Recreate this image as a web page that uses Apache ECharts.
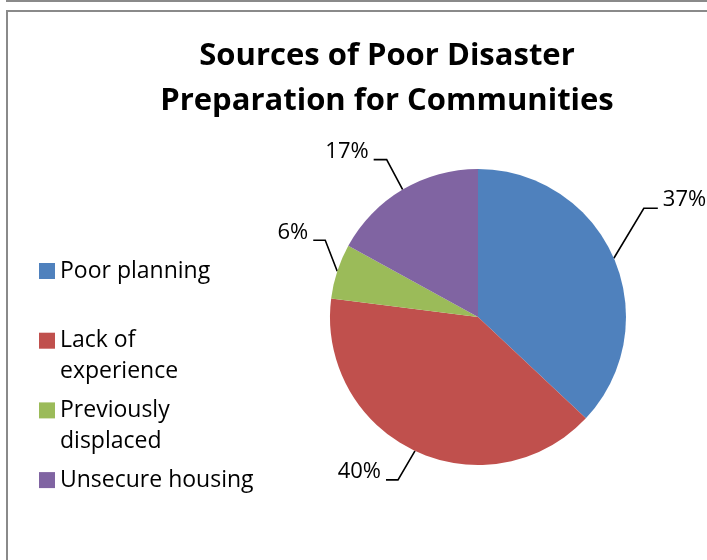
<!DOCTYPE html>
<html>
<head>
<meta charset="utf-8">
<script src="https://cdn.jsdelivr.net/npm/echarts@6/dist/echarts.min.js"></script>
<style>
  html, body { margin: 0; padding: 0; background: #ffffff; }
  #chart { width: 707px; height: 560px; }
</style>
</head>
<body>
<div id="chart"></div>
<script>
// Chart data
const titleLines = ['Sources of Poor Disaster', 'Preparation for Communities'];
const categories = ['Poor planning', 'Lack of experience', 'Previously displaced', 'Unsecure housing'];
const legendText = ['Poor planning', 'Lack of\nexperience', 'Previously\ndisplaced', 'Unsecure housing'];
const shares = [37, 40, 6, 17];

// Styling
const sliceColors = ['#4F81BD', '#C0504D', '#9BBB59', '#8064A2'];
const FONT = '"Open Sans", "Noto Sans", sans-serif';
const LEGEND_LINE = 31;      // legend line height
const LEGEND_FIRST = 271;    // centre of the first swatch
const LEGEND_STEP = 69.7;    // distance between swatches

// Leader lines: bend offset from the slice edge, then a horizontal run
const leaders = [
  { dx: 30, dy: -50, run: 14 },
  { dx: -17, dy: 29, run: -12 },
  { dx: -12, dy: -31, run: -12 },
  { dx: -16, dy: -30, run: -13 }
];

const chart = echarts.init(document.getElementById('chart'), null, { renderer: 'canvas' });

// One legend block per entry. The swatch sits at the vertical middle of the
// text block, so wrapped names get blank lines on top to keep the swatch
// level with their first line.
const legends = categories.map(function (name, i) {
  const extra = legendText[i].split('\n').length - 1;
  const swatchY = LEGEND_FIRST + LEGEND_STEP * i;
  const label = new Array(extra + 1).join(' \n') + legendText[i];
  return {
    orient: 'vertical',
    left: 39,
    top: swatchY - LEGEND_LINE / 2 - extra * LEGEND_LINE,
    padding: 0,
    itemWidth: 16,
    itemHeight: 16,
    icon: 'rect',
    selectedMode: false,
    itemStyle: { borderWidth: 0 },
    data: [name],
    formatter: function () { return label; },
    textStyle: {
      fontFamily: FONT,
      fontSize: 23,
      lineHeight: LEGEND_LINE,
      color: '#000000'
    }
  };
});

const option = {
  backgroundColor: '#ffffff',
  animation: false,
  color: sliceColors,
  graphic: [
    {
      type: 'polyline',
      shape: { points: [[7, -4], [7, 1], [710, 1]] },
      style: { stroke: '#8a8a8a', lineWidth: 2, fill: null }
    },
    {
      type: 'polyline',
      shape: { points: [[7, 565], [7, 11], [710, 11]] },
      style: { stroke: '#8a8a8a', lineWidth: 2, fill: null }
    },
    {
      type: 'text',
      x: 387,
      y: 33.5,
      style: {
        text: titleLines.join('\n'),
        fontFamily: FONT,
        fontWeight: 'bold',
        fontSize: 31,
        lineHeight: 45,
        align: 'center',
        verticalAlign: 'top',
        fill: '#000000'
      }
    }
  ],
  legend: legends,
  series: [
    {
      type: 'pie',
      center: [478, 317],
      radius: 148,
      startAngle: 90,
      clockwise: true,
      avoidLabelOverlap: false,
      silent: true,
      itemStyle: { borderWidth: 0 },
      data: categories.map(function (name, i) {
        return { name: name, value: shares[i] };
      }),
      label: {
        show: true,
        position: 'outside',
        formatter: function (p) { return shares[p.dataIndex] + '%'; },
        fontFamily: FONT,
        fontSize: 22,
        color: '#000000'
      },
      labelLine: {
        show: true,
        length: 20,
        length2: 12,
        lineStyle: { color: '#000000', width: 1.6 }
      },
      labelLayout: function (p) {
        const L = leaders[p.dataIndex];
        const p0 = p.labelLinePoints[0];
        const p1 = [p0[0] + L.dx, p0[1] + L.dy];
        const p2 = [p1[0] + L.run, p1[1]];
        const right = L.run > 0;
        return {
          x: p2[0] + (right ? 5 : -5),
          y: p2[1] - 8,
          align: right ? 'left' : 'right',
          verticalAlign: 'middle',
          labelLinePoints: [p0, p1, p2]
        };
      }
    }
  ]
};

chart.setOption(option);
</script>
</body>
</html>
